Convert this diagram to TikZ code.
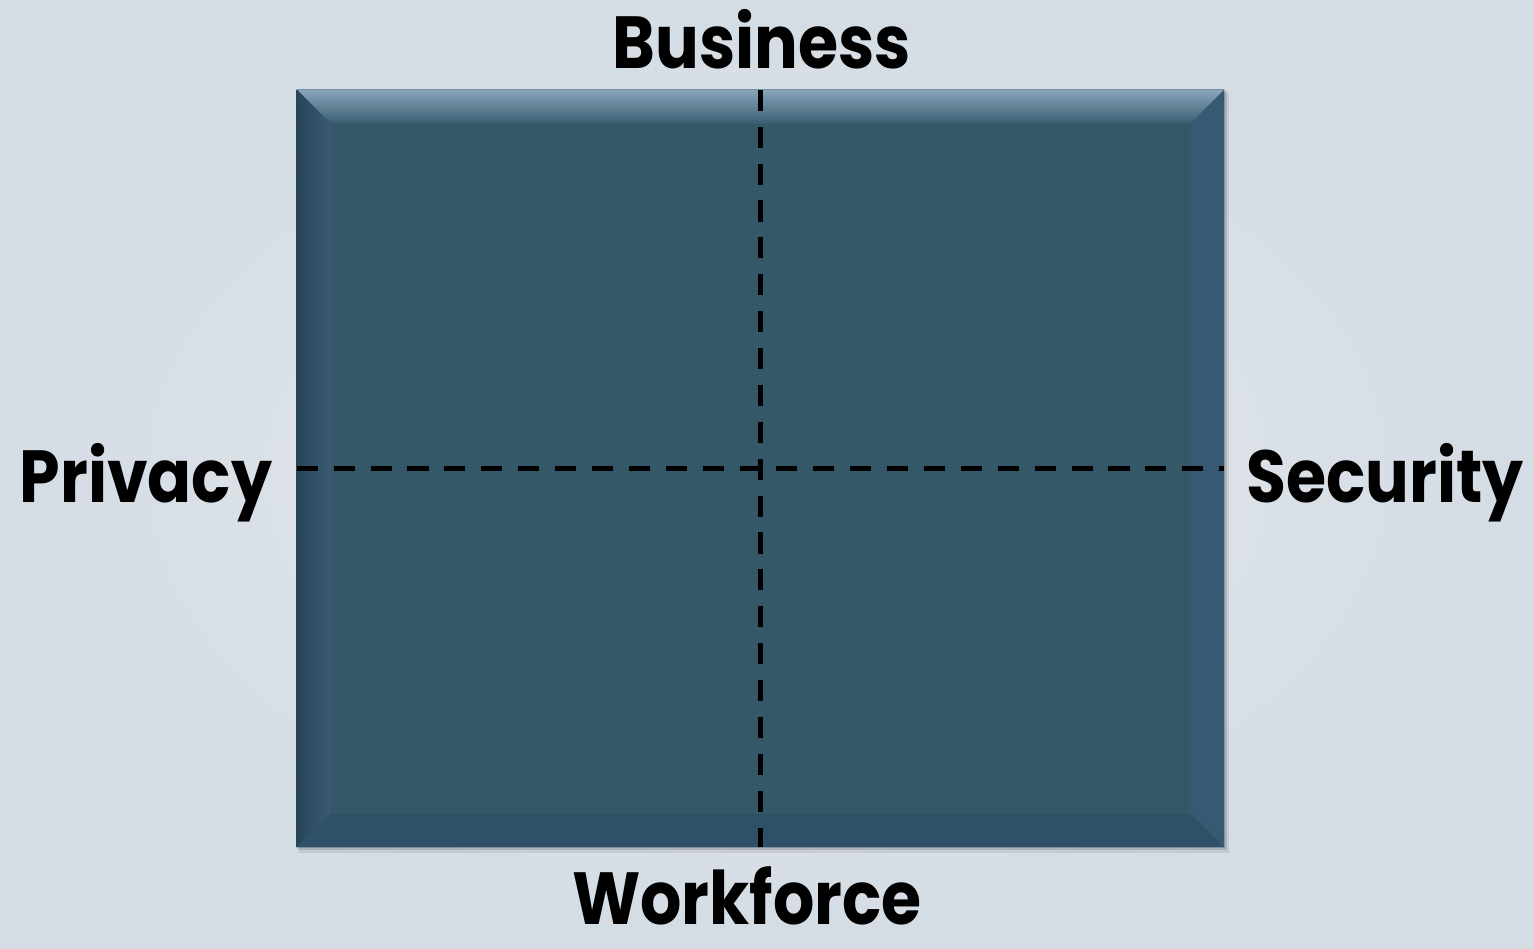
\documentclass[tikz,border=0pt]{standalone}
\usepackage{fontspec}
\setmainfont{Poppins}[FakeStretch=0.88]
\usetikzlibrary{calc}
\definecolor{bgin}{HTML}{E6E9EC}
\definecolor{bgout}{HTML}{D4DCE4}
\definecolor{face}{HTML}{355868}
\definecolor{bevtop}{HTML}{8AA6BB}
\definecolor{bevtopin}{HTML}{3A5C70}
\definecolor{bevleft}{HTML}{27455A}
\definecolor{bevleftin}{HTML}{3C5A72}
\definecolor{bevright}{HTML}{355A72}
\definecolor{bevbottom}{HTML}{2E5168}
\tikzset{
  axislabel/.style={font=\bfseries\fontsize{42}{42}\selectfont, anchor=base, inner sep=0pt},
  divider/.style={line width=2.8pt, dash pattern=on 12pt off 9pt},
  facebox/.style={fill=face, draw=none, minimum width=18.54cm, minimum height=15.14cm, inner sep=0pt}
}
\begin{document}
\begin{tikzpicture}[x=0.02cm,y=-0.02cm]
  % background
  \path[inner color=bgin, outer color=bgout] (0,0) rectangle (1534,948);
  \useasboundingbox (0,0) rectangle (1534,948);
  % shadow
  \fill[black, opacity=0.08] (299,93) rectangle (1229,853);
  \fill[black, opacity=0.12] (298,91) rectangle (1227,850);
  % the box
  \node[facebox] (box) at (760.5,468.5) {};
  \coordinate (inw) at ($(box.north west)+(34,34)$);
  \coordinate (ine) at ($(box.north east)+(-34,34)$);
  \coordinate (isw) at ($(box.south west)+(34,-34)$);
  \coordinate (ise) at ($(box.south east)+(-34,-34)$);
  \shade[top color=bevtop, bottom color=bevtopin]
    (box.north west) -- (box.north east) -- (ine) -- (inw) -- cycle;
  \shade[left color=bevleft, right color=bevleftin]
    (box.north west) -- (inw) -- (isw) -- (box.south west) -- cycle;
  \fill[bevright]
    (box.north east) -- (box.south east) -- (ise) -- (ine) -- cycle;
  \fill[bevbottom]
    (box.south west) -- (isw) -- (ise) -- (box.south east) -- cycle;
  \draw[bevtop!70!face, line width=0.8pt] (box.north west) -- (box.north east);
  % labels
  \node[axislabel] (business) at (762,68) {Business};
  \node[axislabel] (workforce) at (747,924) {Workforce};
  \node[axislabel] (privacy) at (146,502) {Privacy};
  \node[axislabel] (security) at (1385,502) {Security};
  % dividers
  \begin{scope}[divider]
    \draw (box.north) -- (box.south);
    \draw (box.west) -- (box.east);
  \end{scope}
\end{tikzpicture}
\end{document}
